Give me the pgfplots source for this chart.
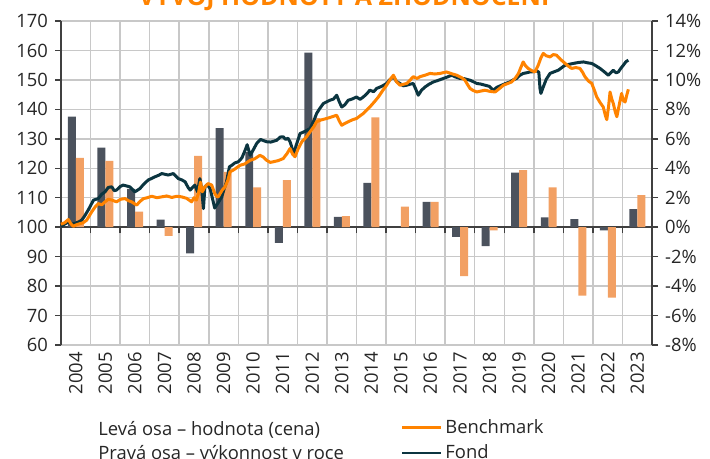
\documentclass[border=0pt]{standalone}
\usepackage{pgfplots}
\pgfplotsset{compat=1.18}
\usepackage{fontspec}
\setmainfont{Open Sans}
\definecolor{fond}{HTML}{0B3540}
\definecolor{bench}{HTML}{FF8300}
\definecolor{fondbar}{HTML}{4B525D}
\definecolor{benchbar}{HTML}{F2A063}
\definecolor{gridc}{HTML}{C8C8C8}
\definecolor{axc}{HTML}{404040}
\definecolor{txt}{HTML}{262626}
\begin{document}
\begin{tikzpicture}[font=\fontsize{9.2}{11}\selectfont, text=txt]
% right axis: bars
\begin{axis}[
  at={(30.5pt,-172.5pt)}, anchor=south west, scale only axis,
  width=295.5pt, height=162pt,
  xmin=2004, xmax=2024, ymin=-8, ymax=14,
  axis y line*=right, axis x line*=middle,
  xtick={2004,2005,2006,2007,2008,2009,2010,2011,2012,2013,2014,2015,2016,2017,2018,2019,2020,2021,2022,2023,2024},
  xticklabels={},
  xtick align=outside, ytick align=outside,
  major tick length=3pt,
  ytick={-8,-6,-4,-2,0,2,4,6,8,10,12,14},
  yticklabels={-8\%,-6\%,-4\%,-2\%,0\%,2\%,4\%,6\%,8\%,10\%,12\%,14\%},
  yticklabel style={font=\fontsize{9.2}{11}\selectfont, text=txt},
  xmajorgrids, ymajorgrids,
  grid style={gridc, line width=0.75pt},
  axis line style={axc, line width=0.75pt, -},
  tick style={axc, line width=0.75pt},
  clip=false,
]
\addplot[ybar, bar width=0.27, bar shift=0pt, fill=fondbar, draw=none] coordinates {
(2004.37,7.5) (2005.37,5.4) (2006.37,2.6) (2007.37,0.52) (2008.37,-1.78)
(2009.37,6.72) (2010.37,5.1) (2011.37,-1.07) (2012.37,11.85) (2013.37,0.7)
(2014.37,3.0) (2016.37,1.72) (2017.37,-0.66) (2018.37,-1.29)
(2019.37,3.71) (2020.37,0.66) (2021.37,0.54) (2022.37,-0.22) (2023.37,1.22)
};
\addplot[ybar, bar width=0.27, bar shift=0pt, fill=benchbar, draw=none] coordinates {
(2004.64,4.71) (2005.64,4.5) (2006.64,1.05) (2007.64,-0.59) (2008.64,4.85)
(2009.64,3.75) (2010.64,2.7) (2011.64,3.19) (2012.64,7.4) (2013.64,0.75)
(2014.64,7.45) (2015.64,1.4) (2016.64,1.72) (2017.64,-3.33) (2018.64,-0.22)
(2019.64,3.87) (2020.64,2.7) (2021.64,-4.64) (2022.64,-4.78) (2023.64,2.17)
};
\end{axis}
% left axis: lines
\begin{axis}[
  at={(30.5pt,-172.5pt)}, anchor=south west, scale only axis,
  width=295.5pt, height=162pt,
  xmin=2004, xmax=2024, ymin=60, ymax=170,
  axis y line*=left, axis x line*=bottom,
  x axis line style={draw=none},
  y axis line style={axc, line width=0.75pt, -},
  xtick={2004.5,2005.5,2006.5,2007.5,2008.5,2009.5,2010.5,2011.5,2012.5,2013.5,2014.5,2015.5,2016.5,2017.5,2018.5,2019.5,2020.5,2021.5,2022.5,2023.5},
  xticklabels={2004,2005,2006,2007,2008,2009,2010,2011,2012,2013,2014,2015,2016,2017,2018,2019,2020,2021,2022,2023},
  xticklabel style={rotate=90, anchor=east, font=\fontsize{9.2}{11}\selectfont, text=txt},
  x tick style={draw=none},
  ytick={60,70,80,90,100,110,120,130,140,150,160,170},
  yticklabels={60,70,80,90,100,110,120,130,140,150,160,170},
  yticklabel style={font=\fontsize{9.2}{11}\selectfont, text=txt},
  ytick align=outside, major tick length=3pt,
  y tick style={axc, line width=0.75pt},
  clip=false,
]
\addplot[fond, line width=1.5pt, line join=round] coordinates {
(2004.00,100.3) (2004.10,100.9) (2004.25,101.8) (2004.35,101.0) (2004.47,101.3) (2004.60,101.8) (2004.70,102.4)
(2004.80,103.8) (2004.92,105.8) (2005.10,109.2) (2005.26,109.7) (2005.38,111.2) (2005.49,112.0) (2005.60,113.5)
(2005.72,113.7) (2005.80,112.4) (2005.88,112.6) (2006.00,113.8) (2006.10,114.3) (2006.33,113.7) (2006.50,112.0)
(2006.67,113.1) (2006.80,114.6) (2006.95,116.0) (2007.18,117.1) (2007.30,117.6) (2007.41,118.2) (2007.50,118.0) (2007.63,117.7)
(2007.80,118.2) (2007.97,116.5) (2008.10,116.0) (2008.20,115.4) (2008.30,113.5) (2008.37,112.6) (2008.53,114.3)
(2008.62,112.0) (2008.70,116.5) (2008.76,113.0) (2008.82,106.3) (2008.87,113.7) (2008.95,114.5) (2009.05,113.0)
(2009.12,110.0) (2009.20,106.5) (2009.30,108.0) (2009.44,110.3) (2009.52,113.0) (2009.60,115.4) (2009.70,120.5)
(2009.78,121.0) (2009.88,121.8) (2010.00,122.2) (2010.12,123.5) (2010.23,126.1) (2010.30,128.0) (2010.40,124.4)
(2010.52,126.5) (2010.62,128.4) (2010.75,129.8) (2010.85,129.4) (2010.96,129.0) (2011.10,128.9) (2011.30,129.5)
(2011.42,130.6) (2011.52,130.7) (2011.60,129.8) (2011.68,130.2) (2011.75,129.0) (2011.80,127.5) (2011.86,124.5)
(2011.95,127.5) (2012.09,131.8) (2012.25,132.5) (2012.43,133.5) (2012.55,136.0) (2012.65,138.6) (2012.75,140.2)
(2012.88,142.0) (2013.00,142.6) (2013.10,143.1) (2013.22,143.5) (2013.33,144.8) (2013.42,142.5) (2013.50,140.8)
(2013.60,141.5) (2013.72,143.1) (2013.85,143.5) (2014.00,144.2) (2014.12,143.4) (2014.23,144.2) (2014.35,145.3)
(2014.45,146.5) (2014.58,146.0) (2014.68,147.1) (2014.85,147.8) (2015.02,148.8) (2015.12,150.0) (2015.25,151.1)
(2015.35,149.5) (2015.47,148.8) (2015.58,148.0) (2015.70,148.2) (2015.80,148.5) (2015.92,148.8) (2016.00,147.0)
(2016.09,144.8) (2016.20,146.5) (2016.32,147.6) (2016.45,148.5) (2016.60,149.3) (2016.75,149.8) (2016.94,150.5)
(2017.08,151.0) (2017.22,151.6) (2017.35,151.0) (2017.50,150.5) (2017.65,150.4) (2017.84,149.9) (2017.95,149.4)
(2018.07,148.8) (2018.20,148.6) (2018.35,148.2) (2018.50,147.8) (2018.63,146.5) (2018.75,147.5) (2018.91,148.2)
(2019.05,148.8) (2019.19,149.3) (2019.30,150.0) (2019.42,150.5) (2019.52,151.5) (2019.64,152.2) (2019.75,152.4)
(2019.87,152.7) (2020.00,152.8) (2020.10,153.1) (2020.17,152.6) (2020.21,147.0) (2020.24,145.4) (2020.32,147.6)
(2020.42,150.2) (2020.55,152.2) (2020.70,152.8) (2020.83,153.3) (2020.95,154.2) (2021.06,155.0) (2021.20,155.3)
(2021.34,155.6) (2021.50,155.9) (2021.68,156.1) (2021.82,155.8) (2021.96,155.6) (2022.10,154.8) (2022.24,153.9)
(2022.38,152.8) (2022.52,151.6) (2022.60,152.4) (2022.69,153.3) (2022.78,152.4) (2022.86,152.7) (2022.95,154.0)
(2023.03,155.0) (2023.12,156.2) (2023.20,156.7)
};
\addplot[bench, line width=1.5pt, line join=round] coordinates {
(2004.00,101.0) (2004.12,101.5) (2004.25,102.6) (2004.33,101.2) (2004.42,100.3) (2004.52,100.8) (2004.64,101.2)
(2004.75,101.5) (2004.87,102.4) (2005.04,105.2) (2005.15,106.8) (2005.26,108.0) (2005.38,107.6) (2005.49,108.6)
(2005.60,109.5) (2005.72,109.2) (2005.88,108.6) (2006.02,109.5) (2006.17,109.7) (2006.28,109.0) (2006.39,108.6)
(2006.56,107.5) (2006.68,108.8) (2006.79,109.7) (2006.92,110.0) (2007.07,110.5) (2007.25,110.0) (2007.41,110.3)
(2007.58,110.6) (2007.75,110.1) (2007.92,110.5) (2008.08,110.3) (2008.25,109.8) (2008.42,108.6) (2008.50,110.0)
(2008.58,109.2) (2008.65,111.4) (2008.72,115.3) (2008.78,112.0) (2008.87,113.7) (2008.98,114.8) (2009.10,114.3)
(2009.20,111.5) (2009.26,110.5) (2009.32,110.3) (2009.45,112.5) (2009.55,113.7) (2009.65,116.0) (2009.72,118.8)
(2009.85,119.5) (2010.06,121.0) (2010.22,121.5) (2010.40,122.7) (2010.55,123.2) (2010.73,124.4) (2010.85,123.8)
(2010.96,122.7) (2011.08,122.0) (2011.18,122.2) (2011.35,122.6) (2011.52,123.3) (2011.65,125.0) (2011.75,126.7)
(2011.84,124.8) (2011.92,123.9) (2012.02,126.5) (2012.15,129.0) (2012.30,130.6) (2012.43,132.4) (2012.55,134.0)
(2012.65,135.8) (2012.80,136.4) (2012.99,136.9) (2013.15,137.4) (2013.33,138.0) (2013.42,136.0) (2013.50,134.6)
(2013.60,135.2) (2013.72,135.8) (2013.85,136.4) (2014.00,136.9) (2014.12,137.8) (2014.23,138.6) (2014.35,139.8)
(2014.45,140.8) (2014.60,142.5) (2014.74,144.2) (2014.88,146.3) (2015.02,148.2) (2015.15,150.3) (2015.25,151.6)
(2015.35,149.4) (2015.47,148.2) (2015.58,148.5) (2015.70,148.8) (2015.82,150.0) (2015.92,151.1) (2016.05,150.5)
(2016.15,151.1) (2016.32,151.6) (2016.49,152.2) (2016.65,152.0) (2016.83,152.2) (2016.95,152.5) (2017.05,152.7)
(2017.22,152.1) (2017.39,151.6) (2017.55,150.8) (2017.67,149.9) (2017.76,148.4) (2017.84,147.1) (2017.95,146.4)
(2018.07,145.9) (2018.20,146.2) (2018.35,146.5) (2018.52,146.1) (2018.69,145.9) (2018.83,147.0) (2018.97,148.2)
(2019.10,148.7) (2019.25,149.3) (2019.38,150.7) (2019.48,152.2) (2019.56,154.2) (2019.64,156.1) (2019.72,154.8)
(2019.81,153.9) (2019.92,153.2) (2020.04,152.7) (2020.15,155.0) (2020.24,157.5) (2020.32,159.0) (2020.42,158.2)
(2020.55,157.8) (2020.66,158.6) (2020.77,158.4) (2020.90,157.0) (2021.06,155.6) (2021.18,154.6) (2021.28,153.9)
(2021.42,154.2) (2021.56,153.9) (2021.65,152.6) (2021.73,151.1) (2021.85,149.6) (2021.96,148.8) (2022.05,146.5)
(2022.13,144.2) (2022.25,142.2) (2022.35,140.8) (2022.42,138.0) (2022.47,136.5) (2022.53,141.0) (2022.58,145.9)
(2022.64,143.5) (2022.69,142.0) (2022.76,139.0) (2022.81,137.5) (2022.89,141.5) (2022.97,145.4) (2023.03,143.0)
(2023.09,142.5) (2023.15,145.0) (2023.20,146.8)
};
\end{axis}
% title (cut at top as in the reference)
\node[anchor=base, font=\bfseries\fontsize{12.5}{14}\selectfont, text=bench] at (172pt,-3pt) {VÝVOJ HODNOTY A ZHODNOCENÍ};
% legend
\node[anchor=base west, inner sep=0pt] at (49pt,-217.5pt) {Levá osa – hodnota (cena)};
\node[anchor=base west, inner sep=0pt] at (49pt,-229.8pt) {Pravá osa – výkonnost v roce};
\draw[bench, line width=1.2pt] (201pt,-213.8pt) -- (220.5pt,-213.8pt);
\node[anchor=base west, inner sep=0pt] at (222.5pt,-216.5pt) {Benchmark};
\draw[fond, line width=1.2pt] (201pt,-226.5pt) -- (220.5pt,-226.5pt);
\node[anchor=base west, inner sep=0pt] at (222.5pt,-229pt) {Fond};
\pgfresetboundingbox
\useasboundingbox (0pt,0pt) rectangle (355pt,-229.5pt);
\end{tikzpicture}
\end{document}
